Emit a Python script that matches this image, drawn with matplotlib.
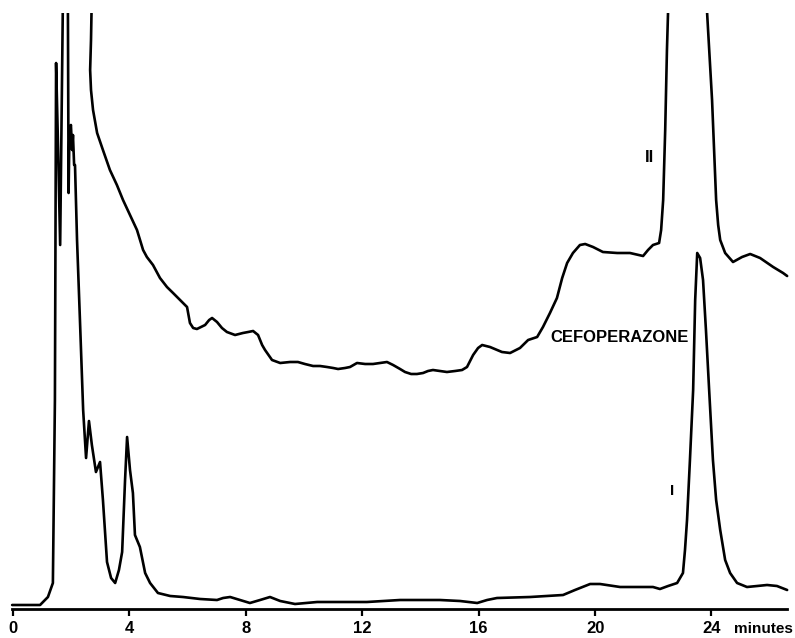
import matplotlib
matplotlib.use("Agg")
import matplotlib.pyplot as plt
import numpy as np

# ---- data (time in minutes, detector signal in arbitrary units) ----
# values above the top of the chart paper (off-scale) are given as 649
trace1_t = [-0.03, 0.93, 1.20, 1.37, 1.44, 1.48, 1.55, 1.62, 1.73, 1.88, 1.91, 1.94, 1.99,
            2.03, 2.06, 2.10, 2.13, 2.20, 2.30, 2.41, 2.51, 2.61, 2.71, 2.85, 2.99, 3.09,
            3.23, 3.37, 3.51, 3.64, 3.75, 3.85, 3.92, 4.02, 4.12, 4.19, 4.36, 4.54, 4.71,
            4.98, 5.40, 5.84, 6.43, 7.01, 7.22, 7.46, 7.80, 8.14, 8.49, 8.83, 9.18, 9.69,
            10.45, 12.16, 13.30, 14.67, 15.36, 15.95, 16.29, 16.63, 17.77, 18.90, 19.31,
            19.83, 20.17, 20.86, 21.99, 22.23, 22.51, 22.82, 23.02, 23.09, 23.16, 23.26,
            23.37, 23.44, 23.51, 23.61, 23.71, 23.81, 23.92, 24.05, 24.16, 24.30, 24.47,
            24.64, 24.88, 25.22, 25.57, 25.91, 26.25, 26.60]
trace1_y = [4, 4, 12, 26, 209, 546, 459, 364, 649, 649, 416, 479, 484,
            459, 474, 444, 444, 369, 289, 199, 151, 188, 164, 137, 147, 109,
            47, 31, 26, 39, 57, 129, 172, 139, 116, 74, 62, 36, 26,
            16, 13, 12, 10, 9, 11, 12, 9, 6, 9, 12, 8, 5,
            7, 7, 9, 9, 8, 6, 9, 11, 12, 14, 19,
            25, 25, 22, 22, 20, 23, 26, 36, 59, 89, 149,
            219, 309, 356, 351, 329, 279, 219, 149, 109, 79, 49,
            36, 26, 22, 23, 24, 23, 19]

trace2_t = [2.73, 2.68, 2.65, 2.68, 2.75, 2.89, 3.09, 3.33, 3.57, 3.78, 4.02, 4.26, 4.47,
            4.60, 4.81, 5.05, 5.29, 5.50, 5.74, 5.98, 6.08, 6.19, 6.32, 6.46, 6.60, 6.74,
            6.84, 7.01, 7.18, 7.35, 7.63, 7.90, 8.08, 8.25, 8.42, 8.56, 8.66, 8.90, 9.18,
            9.52, 9.79, 10.03, 10.31, 10.55, 10.79, 11.00, 11.17, 11.41, 11.58, 11.82,
            12.10, 12.37, 12.61, 12.85, 13.06, 13.30, 13.47, 13.68, 13.88, 14.09, 14.26,
            14.43, 14.67, 14.91, 15.19, 15.43, 15.60, 15.81, 15.98, 16.12, 16.39, 16.80,
            17.08, 17.42, 17.70, 18.01, 18.21, 18.45, 18.69, 18.87, 19.04, 19.24, 19.48,
            19.66, 19.93, 20.27, 20.76, 21.20, 21.65, 21.82, 21.99, 22.20, 22.27, 22.34,
            22.41, 22.47, 22.56, 23.75, 23.85, 24.02, 24.16, 24.23, 24.30, 24.47, 24.74,
            25.05, 25.33, 25.67, 26.12, 26.46, 26.60]
trace2_y = [649, 569, 539, 519, 499, 476, 459, 439, 424, 409, 394, 379, 359,
            352, 344, 331, 322, 316, 309, 302, 286, 281, 280, 282, 284, 289,
            291, 287, 281, 277, 274, 276, 277, 278, 274, 264, 259, 249, 246,
            247, 247, 245, 243, 243, 242, 241, 240, 241, 242, 246,
            245, 245, 246, 247, 244, 240, 237, 235, 235, 236, 238,
            239, 238, 237, 238, 239, 242, 254, 261, 264, 262, 257,
            256, 261, 269, 272, 282, 296, 311, 331, 346, 356, 364,
            365, 362, 357, 356, 356, 353, 359, 364, 366, 379, 409,
            479, 559, 649, 649, 596, 509, 409, 384, 369, 356, 347,
            352, 355, 351, 342, 336, 333]

tick_values = [0, 4, 8, 12, 16, 20, 24]
tick_labels = ["0", "4", "8", "12", "16", "20", "24"]
axis_unit = "minutes"
label_upper = "II"
label_lower = "I"
label_compound = "CEFOPERAZONE"

# ---- figure ----
W, H, DPI = 795, 638, 100
fig = plt.figure(figsize=(W / DPI, H / DPI), dpi=DPI)
top_px = 13
ax = fig.add_axes([0, 0, 1, (H - top_px) / H])
ax.set_xlim(-0.447, 26.87)
ax.set_ylim(-29, 596)

lw = 1.9
ax.plot(trace1_t, trace1_y, color="black", lw=lw, solid_joinstyle="round",
        solid_capstyle="round")
ax.plot(trace2_t, trace2_y, color="black", lw=lw, solid_joinstyle="round",
        solid_capstyle="round")

for s in ["top", "left", "right"]:
    ax.spines[s].set_visible(False)
ax.spines["bottom"].set_position(("data", 0))
ax.spines["bottom"].set_bounds(-0.03, 26.6)
ax.spines["bottom"].set_linewidth(2.0)
ax.set_yticks([])
ax.set_xticks(tick_values)
ax.set_xticklabels(tick_labels, fontfamily="Liberation Sans", fontweight="bold", fontsize=12)
ax.tick_params(axis="x", direction="out", length=5, width=1.6, pad=3.5)

txt = dict(color="black", fontfamily="Liberation Sans", fontweight="bold")
ax.text(24.78, -24, axis_unit, ha="left", va="baseline", fontsize=11, clip_on=False, **txt)
ax.text(21.86, 452, label_upper, ha="center", va="center", fontsize=12, **txt)
ax.text(22.65, 118, label_lower, ha="center", va="center", fontsize=11, **txt)
ax.text(18.45, 272, label_compound, ha="left", va="center", fontsize=12, **txt)

fig.savefig("out.png", dpi=DPI, facecolor="white")
